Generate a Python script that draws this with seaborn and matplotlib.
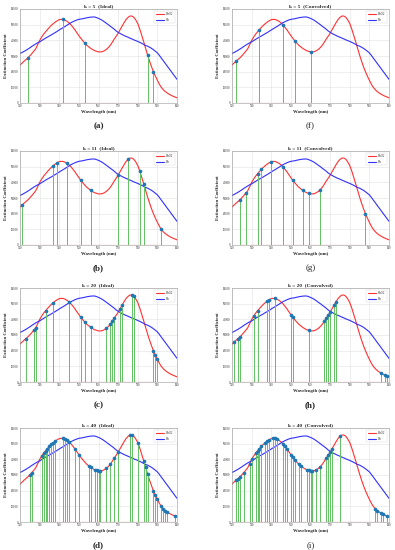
import numpy as np
import pandas as pd
import seaborn as sns
import matplotlib
matplotlib.use('Agg')
import matplotlib.pyplot as plt

# wavelength grid (nm) and extinction coefficients
wavelength = np.arange(520, 601)
hbo2 = [24200, 25400, 26600, 27700, 28800, 30100, 31500, 33000, 34600, 37200,
        39900, 42000, 43900, 45400, 46900, 48300, 49600, 50700, 51700, 52500,
        53200, 53400, 53300, 52800, 52100, 51100, 49900, 48300, 46700, 44800,
        43000, 41300, 39700, 38300, 36900, 35900, 34900, 34100, 33400, 33000,
        32600, 32600, 32800, 33400, 34200, 35400, 36800, 38700, 40800, 42600,
        44500, 46800, 49000, 51200, 53200, 54600, 55500, 55500, 54700, 53000,
        50700, 47300, 43300, 39200, 34900, 30700, 26800, 23200, 20000, 17100,
        14500, 12000, 10000, 8500, 7300, 6400, 5600, 4900, 4300, 3800, 3300]
hb = [31600, 32200, 32900, 33600, 34400, 35200, 36100, 36900, 37700, 38400,
      39000, 39800, 40600, 41400, 42100, 42800, 43500, 44300, 45000, 45800,
      46600, 47400, 48100, 48900, 49700, 50500, 51300, 51900, 52500, 53000,
      53400, 53600, 53800, 54100, 54400, 54600, 54800, 54900, 54900, 54500,
      54000, 53400, 52700, 51800, 50900, 50000, 49000, 48100, 47100, 46000,
      45100, 44400, 43700, 43100, 42500, 42000, 41400, 40900, 40300, 39800,
      39300, 38700, 38100, 37400, 36700, 36300, 35600, 34900, 34000, 33000,
      32000, 30400, 28700, 27000, 25300, 23600, 21900, 20200, 18500, 16800, 15100]

# selected wavelengths per panel
sel_k5_ideal = [524, 542, 553, 585, 588]
sel_k5_conv = [522, 534, 546, 552, 560]
sel_k11_ideal = [521, 537, 539, 544, 551, 556, 570, 575, 581, 583, 592]
sel_k11_conv = [524, 527, 533, 535, 540, 546, 551, 556, 559, 565, 588]
sel_k20_ideal = [523, 527, 528, 533, 537, 545, 551, 553, 556, 564,
                 566, 567, 568, 571, 572, 577, 578, 588, 589, 590]
sel_k20_conv = [521, 523, 524, 531, 533, 538, 539, 542, 550, 551,
                559, 567, 568, 569, 570, 572, 573, 596, 598, 599]
sel_k40_ideal = [525, 526, 531, 532, 533, 534, 535, 536, 537, 538,
                 542, 543, 544, 545, 548, 550, 555, 556, 558, 559,
                 560, 561, 564, 566, 568, 570, 576, 577, 580, 583,
                 584, 585, 588, 589, 590, 592, 593, 594, 595, 599]
sel_k40_conv = [522, 523, 524, 526, 529, 530, 532, 533, 534, 535,
                537, 538, 539, 541, 542, 543, 546, 547, 548, 550,
                551, 552, 554, 555, 558, 559, 560, 561, 563, 565,
                568, 569, 570, 571, 575, 593, 594, 596, 597, 599]

titles = ['k = 5  (Ideal)', 'k = 5  (Convolved)',
          'k = 11  (Ideal)', 'k = 11  (Convolved)',
          'k = 20  (Ideal)', 'k = 20  (Convolved)',
          'k = 40  (Ideal)', 'k = 40  (Convolved)']
captions = ['(a)', '(f)', '(b)', '(g)', '(c)', '(h)', '(d)', '(i)']
selections = [sel_k5_ideal, sel_k5_conv, sel_k11_ideal, sel_k11_conv,
              sel_k20_ideal, sel_k20_conv, sel_k40_ideal, sel_k40_conv]

sns.set_theme(style='whitegrid')
plt.rcParams['font.family'] = ['Liberation Serif', 'DejaVu Serif']
plt.rcParams['axes.edgecolor'] = '#999999'
plt.rcParams['grid.color'] = '#e2e2e2'
plt.rcParams['grid.linewidth'] = 0.4

df = pd.DataFrame({'wl': wavelength, 'HbO2': hbo2, 'Hb': hb})

W, H = 395, 550
fig = plt.figure(figsize=(W / 100, H / 100), dpi=100)

col_left = [20, 232]
ax_w = 157
row_top = [9, 151, 288, 428]
ax_h = 94

for i in range(8):
    r, c = divmod(i, 2)
    left = col_left[c] / W
    bottom = 1 - (row_top[r] + ax_h) / H
    ax = fig.add_axes([left, bottom, ax_w / W, ax_h / H])

    sns.lineplot(data=df, x='wl', y='HbO2', ax=ax, color='#ff3030', lw=0.8, label='HbO2')
    sns.lineplot(data=df, x='wl', y='Hb', ax=ax, color='#3030ff', lw=0.8, label='Hb')

    sel = np.array(selections[i])
    heights = np.array(hbo2)[sel - 520]
    ml, sl, bl = ax.stem(sel, heights, linefmt='g-', markerfmt='o', basefmt='r-')
    sl.set_color('#66c266')
    sl.set_linewidth(0.5)
    sl.set_snap(True)
    sl.set_antialiased(False)
    plt.setp(ml, color='#1f77b4', markersize=1.6, zorder=4)
    plt.setp(bl, color='#ff3030', lw=0.8)

    ax.set_xlim(520, 600)
    ax.set_ylim(0, 60000)
    ax.set_xticks(range(520, 601, 10))
    ax.set_yticks(range(0, 60001, 10000))
    ax.tick_params(labelsize=2.2, pad=1, length=0)
    for s in ax.spines.values():
        s.set_linewidth(0.4)
    ax.set_title(titles[i], fontsize=3.8, fontweight='bold', pad=1.5)
    ax.set_xlabel('Wavelength (nm)', fontsize=3.4, fontweight='bold', labelpad=1)
    ax.set_ylabel('Extinction Coefficient', fontsize=3.4, fontweight='bold', labelpad=2)
    leg = ax.legend(loc='upper right', fontsize=2.2, handlelength=2.5,
                    frameon=True, borderpad=0.6, labelspacing=0.4)
    leg.get_frame().set_linewidth(0.3)

    bold = c == 0 or captions[i] == '(h)'
    fig.text((col_left[c] + ax_w / 2) / W, 1 - (row_top[r] + ax_h + 23) / H,
             captions[i], fontsize=6.5, fontweight='bold' if bold else 'normal',
             ha='center', va='center')

fig.savefig('out.png', dpi=100)
